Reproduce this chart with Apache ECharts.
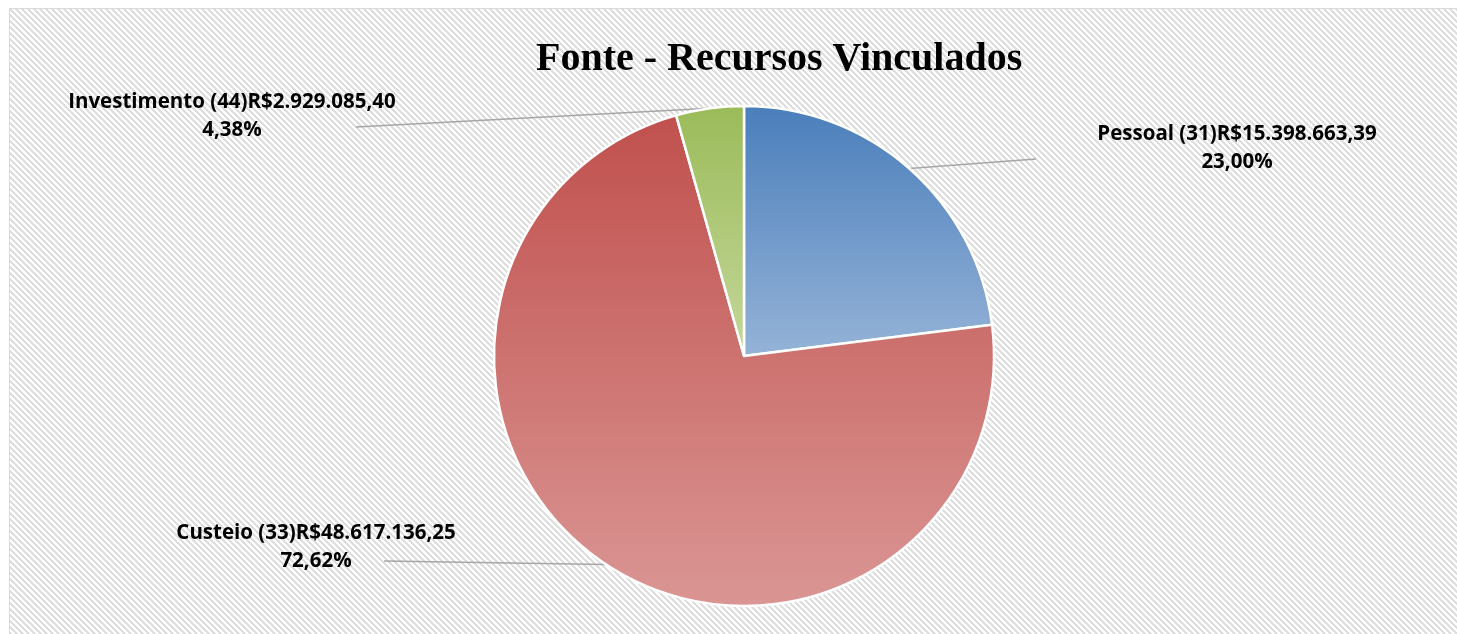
<!DOCTYPE html>
<html>
<head>
<meta charset="utf-8">
<title>Fonte - Recursos Vinculados</title>
<script src="https://cdn.jsdelivr.net/npm/echarts@6/dist/echarts.min.js"></script>
<style>
html, body { margin: 0; padding: 0; background: #fff; overflow: hidden; }
#chart { width: 100vw; height: 100vh; min-width: 1457px; min-height: 634px; }
</style>
</head>
<body>
<div id="chart"></div>
<script>
// dados
var categorias = ['Pessoal (31)', 'Custeio (33)', 'Investimento (44)'];
var valores = [15398663.39, 48617136.25, 2929085.40];
var coresTopo = ['#4a7ebb', '#c0504d', '#9bbb59'];
var coresBase = ['#95b3d7', '#da9694', '#c4d79b'];

function reais(v) {
  var p = v.toFixed(2).split('.');
  return 'R$' + p[0].replace(/\B(?=(\d{3})+(?!\d))/g, '.') + ',' + p[1];
}

// fundo hachurado (estilo Excel)
var tile = document.createElement('canvas');
tile.width = 6; tile.height = 6;
var tctx = tile.getContext('2d');
tctx.fillStyle = '#ffffff';
tctx.fillRect(0, 0, 6, 6);
tctx.fillStyle = '#dedede';
for (var y = 0; y < 6; y++) {
  for (var x = 0; x < 6; x++) {
    if ((x - y + 6) % 6 < 3) tctx.fillRect(x, y, 1, 1);
  }
}

var dados = categorias.map(function (c, i) {
  return {
    name: c,
    value: valores[i],
    itemStyle: {
      color: new echarts.graphic.LinearGradient(0, 0, 0, 1, [
        { offset: 0, color: coresTopo[i] },
        { offset: 1, color: coresBase[i] }
      ])
    }
  };
});

// posição dos rótulos: centro x, meio y, fim da linha guia
var rotulos = [
  { x: 1237, y: 148, fim: [1036, 159] },
  { x: 316, y: 547, fim: [384, 561] },
  { x: 232, y: 116, fim: [356, 127] }
];

var myChart = echarts.init(document.getElementById('chart'));
myChart.setOption({
  animation: false,
  backgroundColor: '#fff',
  graphic: [{
    type: 'rect',
    silent: true,
    z: -10,
    shape: { x: 9.5, y: 8.5, width: 3000, height: 1500 },
    style: { fill: { image: tile, repeat: 'repeat' }, stroke: '#d9d9d9', lineWidth: 1 }
  }],
  title: {
    text: 'Fonte - Recursos Vinculados',
    left: 531,
    top: 35,
    textStyle: { fontFamily: 'Liberation Serif', fontWeight: 'bold', fontSize: 40, color: '#000' }
  },
  series: [{
    type: 'pie',
    center: [744, 356],
    radius: 250,
    startAngle: 90,
    clockwise: true,
    avoidLabelOverlap: false,
    itemStyle: { borderColor: '#fff', borderWidth: 2.5 },
    label: {
      show: true,
      color: '#000',
      fontFamily: 'Open Sans',
      fontWeight: 'bold',
      fontSize: 20.5,
      lineHeight: 28,
      align: 'center',
      formatter: function (p) {
        return p.name + reais(p.value) + '\n' + p.percent.toFixed(2).replace('.', ',') + '%';
      }
    },
    labelLine: {
      show: true,
      length: 20,
      length2: 20,
      lineStyle: { color: '#a6a6a6', width: 1.5 }
    },
    labelLayout: function (p) {
      var r = rotulos[p.dataIndex];
      var pts = p.labelLinePoints;
      var ini = pts ? pts[0] : r.fim;
      return {
        x: r.x,
        y: r.y,
        align: 'center',
        verticalAlign: 'middle',
        labelLinePoints: [ini, ini, r.fim]
      };
    },
    data: dados
  }]
});
</script>
</body>
</html>
